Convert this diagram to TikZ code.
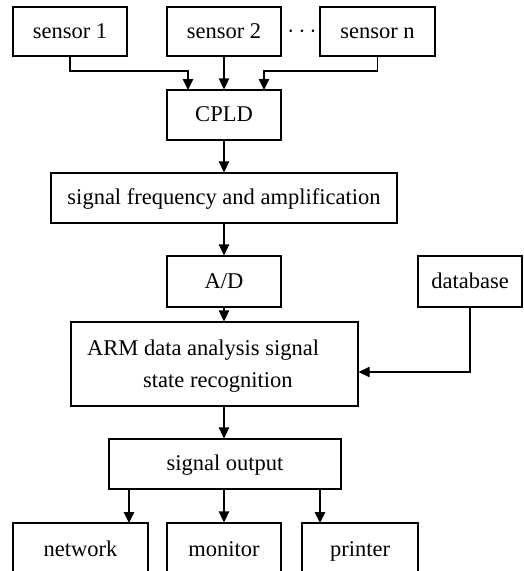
\documentclass[tikz,border=0pt]{standalone}
\usepackage{fontspec}
\setmainfont{Liberation Serif}
\usetikzlibrary{arrows.meta,calc}
\begin{document}
\begin{tikzpicture}[x=1pt,y=-1pt,
  txt/.style={font=\fontsize{22.5}{27}\selectfont},
  box/.style={draw,line width=1.3pt,inner sep=0pt,txt,text height=17pt,text depth=4pt},
  arr/.style={line width=1.3pt,-{Triangle[length=11pt,width=10.5pt]}}]
\useasboundingbox (0,0) rectangle (523,571);
\clip (0,0) rectangle (523,571);
\node[box,minimum width=114,minimum height=49] (s1) at (70,31.5) {sensor 1};
\node[box,minimum width=114,minimum height=49] (s2) at (224,31.5) {sensor 2};
\node[box,minimum width=115,minimum height=49] (sn) at (377.5,31.5) {sensor n};
\node[font=\fontsize{30}{30}\selectfont,inner sep=0pt] (dots) at (302,31.5) {$\cdots$};
\node[box,minimum width=114,minimum height=50] (cpld) at (224,115) {CPLD};
\node[box,minimum width=346,minimum height=50] (sf) at (224,198) {signal frequency and amplification};
\node[box,minimum width=114,minimum height=51] (ad) at (224,281.5) {A/D};
\node[box,minimum width=104,minimum height=51] (db) at (470,281.5) {database};
\node[box,minimum width=287,minimum height=84] (arm) at (214.5,364) {};
\node[anchor=west,align=left,inner sep=0pt,font=\fontsize{22.5}{32}\selectfont] (armt) at (87,366) {ARM data analysis signal\\\hspace*{56pt}state recognition};
\node[box,minimum width=232,minimum height=50] (so) at (225,464) {signal output};
\node[draw,line width=1.3pt,minimum width=135,minimum height=60] (net) at (80.5,553) {};
\node[draw,line width=1.3pt,minimum width=114,minimum height=60] (mon) at (224,553) {};
\node[draw,line width=1.3pt,minimum width=116,minimum height=60] (pr) at (360,553) {};
\node[txt,anchor=base,inner sep=0pt] (nett) at (80.5,556) {network};
\node[txt,anchor=base,inner sep=0pt] (mont) at (224,556) {monitor};
\node[txt,anchor=base,inner sep=0pt] (prt) at (360,556) {printer};
\coordinate (c1) at (188,90);
\coordinate (c3) at (264,90);
\draw[arr] (s1.south) |- (188,71) -- (c1);
\draw[arr] (s2.south) -- (cpld.north);
\draw[arr] (sn.south) |- (264,71) -- (c3);
\draw[arr] (cpld.south) -- (sf.north);
\draw[arr] (sf.south) -- (ad.north);
\draw[arr] (ad.south) -- (ad.south |- arm.north);
\draw[arr] (db.south) |- (arm.east |- 0,372);
\draw[arr] (arm.south -| ad.south) -- (ad.south |- so.north);
\draw[arr] (so.south -| 129,0) -- (129,523);
\draw[arr] (so.south -| mon.north) -- (mon.north);
\draw[arr] (so.south -| 320,0) -- (320,523);
\end{tikzpicture}
\end{document}
